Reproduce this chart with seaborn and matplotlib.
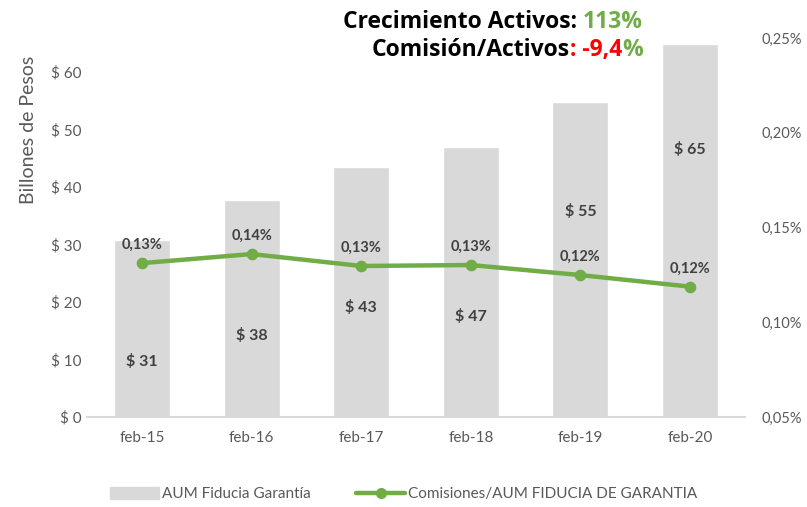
import numpy as np
import pandas as pd
import matplotlib
matplotlib.use("Agg")
import matplotlib.pyplot as plt
import seaborn as sns

# datos
fechas = ["feb-15", "feb-16", "feb-17", "feb-18", "feb-19", "feb-20"]
aum = [30.7, 37.8, 43.4, 47.0, 54.8, 64.9]           # billones de pesos
comision_pct = [0.1312, 0.1360, 0.1297, 0.1302, 0.1249, 0.1188]  # %
crecimiento_txt = "113%"
comision_txt = "-9,4"

# alturas de las etiquetas de barra (puestas a mano en el original)
altura_etiqueta = [9.6, 14.1, 19.1, 17.4, 35.7, 46.6]

GRIS_BARRA = "#D9D9D9"
VERDE = "#70AD47"
ROJO = "#FF0000"
GRIS_TXT = "#595959"
NEGRO_LBL = "#404040"

sns.set_theme(style="white")
plt.rcParams["font.family"] = ["Lato", "DejaVu Sans"]

df = pd.DataFrame({"fecha": fechas, "aum": aum, "comision": np.array(comision_pct) / 100})

fig = plt.figure(figsize=(8.07, 5.07), dpi=100)
ax = fig.add_axes([0.108, 0.1775, 0.815, 0.7475])

sns.barplot(data=df, x="fecha", y="aum", color=GRIS_BARRA, saturation=1, width=0.51, ax=ax)
ax.set_ylim(0, 65.9)
ax.set_yticks(range(0, 61, 10))
ax.set_yticklabels([f"$ {v}" for v in range(0, 61, 10)], color=GRIS_TXT, fontsize=11)
ax.set_xlabel("")
ax.set_ylabel("")
ax.tick_params(axis="x", colors=GRIS_TXT, labelsize=11, length=0, pad=10)
ax.tick_params(axis="y", length=0, pad=4)
for s in ["left", "right", "top"]:
    ax.spines[s].set_visible(False)
ax.spines["bottom"].set_color(GRIS_BARRA)
ax.spines["bottom"].set_linewidth(1.5)

for i, (v, h) in enumerate(zip(aum, altura_etiqueta)):
    ax.text(i, h, f"$ {v:.0f}", ha="center", va="center", fontsize=11.5,
            fontweight="bold", color=NEGRO_LBL)

ax2 = ax.twinx()
sns.pointplot(data=df, x="fecha", y="comision", color=VERDE, markers="o",
              markersize=6, linewidth=3.2, ax=ax2)
ax2.set_ylim(0.0005, 0.0025)
ticks_der = [0.0005, 0.0010, 0.0015, 0.0020, 0.0025]
ax2.set_yticks(ticks_der)
ax2.set_yticklabels([f"{t*100:.2f}%".replace(".", ",") for t in ticks_der],
                    color=GRIS_TXT, fontsize=10.5)
ax2.tick_params(axis="y", length=0, pad=12)
ax2.set_ylabel("")
ax2.set_xlabel("")
for s in ["left", "right", "top", "bottom"]:
    ax2.spines[s].set_visible(False)
ax2.set_xlim(-0.5, len(fechas) - 0.5)

for i, c in enumerate(comision_pct):
    ax2.annotate(f"{c:.2f}%".replace(".", ","), (i, c / 100), xytext=(0, 8),
                 textcoords="offset points", ha="center", va="bottom",
                 fontsize=10.5, fontweight="bold", color=NEGRO_LBL)

# titulo del eje izquierdo
fig.text(28 / 807, 1 - 130 / 507, "Billones de Pesos", rotation=90, ha="center",
         va="center", fontsize=14, color=GRIS_TXT)

# titulos con colores, encadenados de derecha a izquierda
def titulo(y, partes):
    prev = None
    for txt, col in reversed(partes):
        kw = dict(fontsize=16.5, fontweight="bold", color=col, va="bottom", ha="right",
                  family=["Open Sans", "DejaVu Sans"])
        if prev is None:
            prev = fig.text(643 / 807, 1 - y / 507, txt, **kw)
        else:
            prev = ax.annotate(txt, xy=(0, 0), xycoords=prev, annotation_clip=False, **kw)

titulo(34, [("Crecimiento Activos: ", "black"), (crecimiento_txt, VERDE)])
titulo(62, [("Comisión/Activos", "black"), (": " + comision_txt, ROJO), ("%", VERDE)])

# leyenda
h_bar = matplotlib.patches.Patch(color=GRIS_BARRA)
h_lin = matplotlib.lines.Line2D([], [], color=VERDE, lw=3.2, marker="o", markersize=7)
fig.legend([h_bar, h_lin], ["AUM Fiducia Garantía", "Comisiones/AUM FIDUCIA DE GARANTIA"],
           loc="center", bbox_to_anchor=(0.5, 1 - 494 / 507), ncol=2, frameon=False,
           fontsize=11, labelcolor=GRIS_TXT, handlelength=3.2, handleheight=0.9,
           columnspacing=3, handletextpad=0.2)

fig.savefig("out.png", dpi=100)
